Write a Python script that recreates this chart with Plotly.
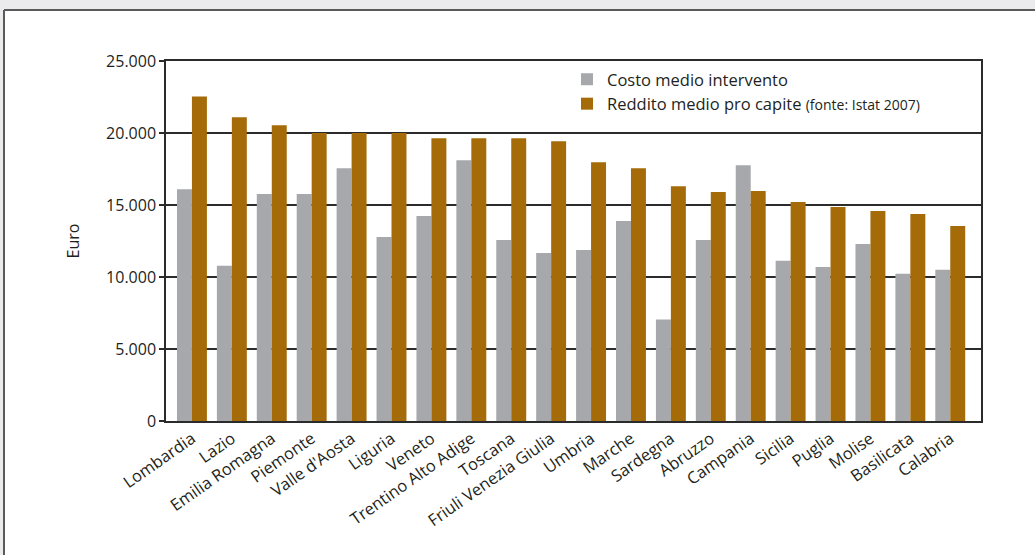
import plotly.graph_objects as go

# Regional data: average intervention cost vs. per-capita income (euro)
regioni = [
    "Lombardia", "Lazio", "Emilia Romagna", "Piemonte", "Valle d'Aosta",
    "Liguria", "Veneto", "Trentino Alto Adige", "Toscana", "Friuli Venezia Giulia",
    "Umbria", "Marche", "Sardegna", "Abruzzo", "Campania",
    "Sicilia", "Puglia", "Molise", "Basilicata", "Calabria",
]
costo_medio = [
    16100, 10780, 15760, 15760, 17560,
    12780, 14240, 18110, 12570, 11670,
    11880, 13890, 7040, 12570, 17760,
    11120, 10700, 12300, 10220, 10500,
]
reddito_medio = [
    22540, 21090, 20530, 20000, 20000,
    20000, 19630, 19630, 19630, 19420,
    17970, 17560, 16310, 15900, 15970,
    15200, 14860, 14580, 14370, 13540,
]
y_ticks = [0, 5000, 10000, 15000, 20000, 25000]

GRAY = "#a7a8ab"
ORANGE = "#a56b08"
INK = "#231f20"
FONT = "Open Sans"
BG = "#ebebed"

idx = list(range(len(regioni)))

fig = go.Figure()
fig.add_trace(go.Bar(
    x=idx, y=costo_medio, name="Costo medio intervento",
    marker=dict(color=GRAY, line=dict(width=0)),
))
fig.add_trace(go.Bar(
    x=idx, y=reddito_medio,
    name="Reddito medio pro capite <span style='font-size:14px'>(fonte: Istat 2007)</span>",
    marker=dict(color=ORANGE, line=dict(width=0)),
))

# pixel -> paper helpers for the surrounding panel
L, R, T, B = 166, 54, 61, 134
W, H = 1035, 555
pw, ph = W - L - R, H - T - B


def px(x):
    return (x - L) / pw


def py(y):
    return (H - B - y) / ph


# grey margin strips above and left of the white panel, plus its border
panel = [
    dict(type="rect", x0=px(0), x1=px(W), y0=py(0), y1=py(10),
         fillcolor=BG, line=dict(width=0)),
    dict(type="rect", x0=px(0), x1=px(4), y0=py(0), y1=py(H),
         fillcolor=BG, line=dict(width=0)),
    dict(type="line", x0=px(4), x1=px(W), y0=py(10), y1=py(10),
         line=dict(color="#5a5a5a", width=2)),
    dict(type="line", x0=px(4), x1=px(4), y0=py(10), y1=py(H),
         line=dict(color="#5a5a5a", width=2)),
]
for s in panel:
    fig.add_shape(xref="paper", yref="paper", layer="below", **s)

fig.update_layout(
    width=W, height=H,
    margin=dict(l=L, r=R, t=T, b=B, pad=0),
    paper_bgcolor="white",
    plot_bgcolor="rgba(0,0,0,0)",
    barmode="group", bargap=0.25, bargroupgap=0,
    separators=",.",
    font=dict(family=FONT, color=INK, size=16),
    showlegend=True,
    legend=dict(
        x=px(567), y=py(62), xanchor="left", yanchor="top",
        bgcolor="rgba(0,0,0,0)", borderwidth=0,
        font=dict(family=FONT, size=16.5, color=INK),
        itemclick=False, tracegroupgap=0,
    ),
    xaxis=dict(
        tickmode="array", tickvals=idx, ticktext=regioni,
        range=[-0.65, 19.77], tickangle=-35,
        showgrid=False, ticks="", showline=True, mirror=True,
        linecolor="#2b2b2b", linewidth=1.5,
        tickfont=dict(family=FONT, size=16.5, color=INK),
    ),
    yaxis=dict(
        range=[0, 25000], tickvals=y_ticks, tickformat=",d",
        showgrid=True, gridcolor="#2b2b2b", gridwidth=1.5,
        ticks="outside", ticklen=5, tickcolor="#2b2b2b", tickwidth=1.5,
        showline=True, mirror=True, linecolor="#2b2b2b", linewidth=1.5,
        zeroline=False,
        title=dict(text="Euro", font=dict(family=FONT, size=16, color=INK), standoff=22),
        tickfont=dict(family=FONT, size=16, color=INK),
    ),
)

fig.write_html(
    "out.html",
    config={"displayModeBar": False},
    post_script="document.body.style.margin='0';document.body.style.overflow='hidden';",
)
